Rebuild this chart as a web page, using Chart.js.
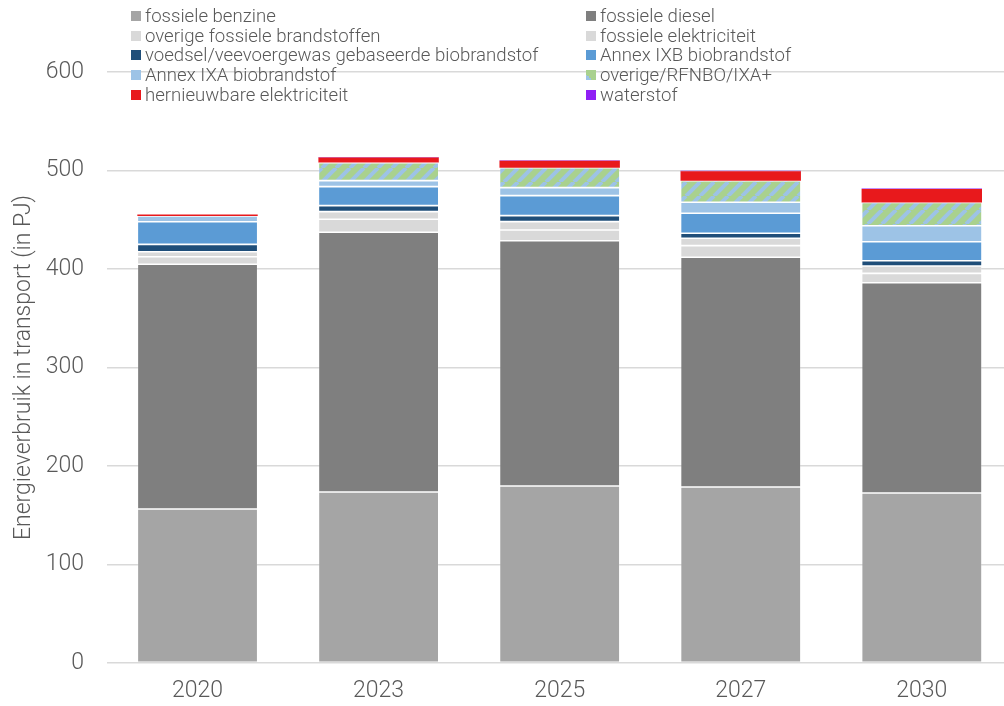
<!DOCTYPE html>
<html>
<head>
<meta charset="utf-8">
<script src="https://cdn.jsdelivr.net/npm/chart.js@4.4.1/dist/chart.umd.min.js"></script>
<style>
  html, body { margin: 0; padding: 0; background: #ffffff; }
  #wrap { position: relative; width: 1004px; height: 706px; }
  #chart { position: absolute; left: 0; top: 0; }
  #legend { position: absolute; left: 0; top: 0; width: 1004px; height: 110px; pointer-events: none;
            font-family: Roboto, "DejaVu Sans", sans-serif; font-weight: 300; font-size: 18.6px; color: #595959; }
  .li { position: absolute; white-space: nowrap; line-height: 20px; height: 20px; }
  .box { position: absolute; width: 10px; height: 10px; top: 5px; left: 0; }
  .lt { position: absolute; left: 14px; top: 0; }
</style>
</head>
<body>
<div id="wrap">
  <canvas id="chart" width="1004" height="706"></canvas>
  <div id="legend"></div>
</div>
<script>
// ---- data ----
const categories = ['2020', '2023', '2025', '2027', '2030'];
const seriesNames = [
  'fossiele benzine', 'fossiele diesel',
  'overige fossiele brandstoffen', 'fossiele elektriciteit',
  'voedsel/veevoergewas gebaseerde biobrandstof', 'Annex IXB biobrandstof',
  'Annex IXA biobrandstof', 'overige/RFNBO/IXA+',
  'hernieuwbare elektriciteit', 'waterstof'
];
const fossieleBenzine      = [156.3, 173.6, 179.7, 178.7, 172.6];
const fossieleDiesel       = [248.5, 263.7, 249.0, 233.2, 213.5];
const overigeFossiel       = [7.7, 13.2, 10.9, 11.8, 9.5];
const fossieleElektriciteit= [5.0, 7.7, 8.5, 7.5, 7.4];
const voedselBio           = [7.5, 6.1, 6.1, 5.1, 5.4];
const annexIXB             = [23.0, 19.3, 20.3, 20.3, 19.3];
const annexIXA             = [5.8, 6.1, 8.1, 11.2, 16.2];
const overigeRFNBO         = [0, 18.3, 20.3, 21.9, 23.7];
const hernieuwbareElek     = [1.5, 5.1, 7.1, 9.5, 13.5];
const waterstof            = [0, 0.5, 0.5, 0.5, 0.5];
const yTicks = [0, 100, 200, 300, 400, 500, 600];

// ---- styles ----
const GREEN = '#a9d18e', LBLUE = '#9dc3e6';
function stripePattern() {
  const c = document.createElement('canvas');
  c.width = 14; c.height = 14;
  const g = c.getContext('2d');
  g.fillStyle = GREEN; g.fillRect(0, 0, 14, 14);
  g.strokeStyle = LBLUE; g.lineWidth = 4;
  for (let k = -14; k <= 28; k += 14) {
    g.beginPath(); g.moveTo(k, 14); g.lineTo(k + 14, 0); g.stroke();
  }
  return g.createPattern(c, 'repeat');
}
const colors = ['#a5a5a5', '#7f7f7f', '#d9d9d9', '#d9d9d9', '#1f4e79', '#5b9bd5',
                '#9dc3e6', stripePattern(), '#e8191c', '#9020f5'];
const legendCss = ['#a5a5a5', '#7f7f7f', '#d9d9d9', '#d9d9d9', '#1f4e79', '#5b9bd5', '#9dc3e6',
  'linear-gradient(45deg, ' + LBLUE + ' 30%, ' + GREEN + ' 30%)', '#e8191c', '#9020f5'];

const seriesValues = [fossieleBenzine, fossieleDiesel, overigeFossiel, fossieleElektriciteit,
  voedselBio, annexIXB, annexIXA, overigeRFNBO, hernieuwbareElek, waterstof];

const datasets = seriesNames.map((name, i) => ({
  label: name,
  data: seriesValues[i].map((v, j) => ({ x: j, y: v })),
  backgroundColor: colors[i],
  borderColor: 'rgba(255,255,255,0.18)',
  borderWidth: i >= 8 ? 0 : 0.8,
  borderSkipped: false,
  barPercentage: 0.665,
  categoryPercentage: 1
}));

const FONT = 'Roboto, "DejaVu Sans", sans-serif';
const TXT = '#595959';

new Chart(document.getElementById('chart'), {
  type: 'bar',
  data: { datasets },
  options: {
    responsive: false,
    animation: false,
    maintainAspectRatio: false,
    layout: { padding: { top: 72, right: 0, left: 0, bottom: 0 } },
    plugins: { legend: { display: false }, tooltip: { enabled: false } },
    scales: {
      x: {
        type: 'linear',
        stacked: true,
        offset: false,
        min: -0.5,
        max: 4.454,
        afterBuildTicks: (s) => { s.ticks = categories.map((c, i) => ({ value: i })); },
        afterFit: (s) => { s.height = 43; },
        grid: { display: false, drawTicks: false },
        border: { display: false },
        ticks: {
          callback: (v) => categories[v],
          color: TXT, padding: 14,
          font: { family: FONT, size: 23, weight: 300 },
          maxRotation: 0, autoSkip: false
        }
      },
      y: {
        stacked: true,
        min: 0, max: 600,
        afterBuildTicks: (s) => { s.ticks = yTicks.map(v => ({ value: v })); },
        afterFit: (s) => { s.width = 107; },
        grid: { color: '#d9d9d9', lineWidth: 1.5, drawTicks: false },
        border: { display: false },
        ticks: {
          color: TXT, padding: 23,
          font: { family: FONT, size: 23, weight: 300 }
        },
        title: {
          display: true,
          text: 'Energieverbruik in transport (in PJ)',
          color: TXT,
          font: { family: FONT, size: 23, weight: 300 },
          padding: { top: 10, bottom: 0 }
        }
      }
    }
  }
});

// ---- legend (two columns) ----
const leg = document.getElementById('legend');
const colX = [131, 586];
const rowY = [6, 26, 45, 65, 85];
seriesNames.forEach((name, i) => {
  const d = document.createElement('div');
  d.className = 'li';
  d.style.left = colX[i % 2] + 'px';
  d.style.top = rowY[Math.floor(i / 2)] + 'px';
  const b = document.createElement('span');
  b.className = 'box';
  b.style.background = legendCss[i];
  const t = document.createElement('span');
  t.className = 'lt';
  t.textContent = name;
  d.appendChild(b); d.appendChild(t);
  leg.appendChild(d);
});
</script>
</body>
</html>
